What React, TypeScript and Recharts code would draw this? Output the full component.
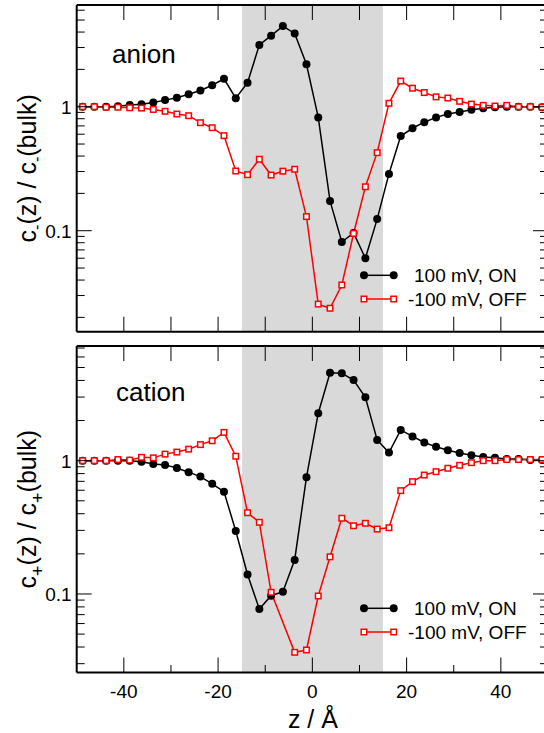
import React from "react"
import { LineChart, Line, XAxis, YAxis, CartesianGrid, Legend } from "recharts"

// bin centres along the pore axis (Å)
const zBins = [
  -48.75, -46.25, -43.75, -41.25, -38.75, -36.25, -33.75, -31.25, -28.75, -26.25,
  -23.75, -21.25, -18.75, -16.25, -13.75, -11.25, -8.75, -6.25, -3.75, -1.25,
  1.25, 3.75, 6.25, 8.75, 11.25, 13.75, 16.25, 18.75, 21.25, 23.75,
  26.25, 28.75, 31.25, 33.75, 36.25, 38.75, 41.25, 43.75, 46.25, 48.75,
]

// c-(z)/c-(bulk)
const anionOn = [
  1.0, 1.0, 1.0, 1.01, 1.03, 1.045, 1.08, 1.13, 1.18, 1.26,
  1.35, 1.49, 1.68, 1.17, 1.56, 3.15, 3.74, 4.47, 3.9, 2.2,
  0.82, 0.174, 0.081, 0.096, 0.06, 0.124, 0.287, 0.58, 0.67, 0.75,
  0.82, 0.873, 0.906, 0.946, 0.97, 0.99, 1.0, 1.0, 1.0, 0.99,
]
const anionOff = [
  1.0, 1.0, 0.99, 0.99, 0.98, 0.975, 0.95, 0.918, 0.873, 0.846,
  0.743, 0.677, 0.584, 0.303, 0.283, 0.377, 0.281, 0.302, 0.313, 0.13,
  0.0256, 0.0237, 0.0365, 0.095, 0.226, 0.426, 1.065, 1.61, 1.41, 1.3,
  1.2, 1.175, 1.105, 1.05, 1.026, 1.013, 1.026, 1.0, 1.0, 0.99,
]

// c+(z)/c+(bulk); one bin missing in the OFF run
const cationOn = [
  1.0, 1.0, 1.0, 1.0, 1.0, 0.98, 0.945, 0.93, 0.88, 0.82,
  0.76, 0.67, 0.585, 0.297, 0.14, 0.077, 0.097, 0.104, 0.18, 0.75,
  2.27, 4.57, 4.52, 4.03, 2.99, 1.43, 1.15, 1.7, 1.52, 1.37,
  1.27, 1.197, 1.14, 1.1, 1.066, 1.05, 1.03, 1.03, 1.01, 1.01,
]
const cationOff = [
  1.0, 1.0, 1.0, 1.02, 1.01, 1.06, 1.05, 1.12, 1.16, 1.22,
  1.32, 1.41, 1.63, 1.08, 0.407, 0.345, 0.103, null, 0.0365, 0.038,
  0.0966, 0.19, 0.37, 0.325, 0.339, 0.307, 0.314, 0.596, 0.696, 0.78,
  0.827, 0.877, 0.923, 0.966, 1.0, 1.0, 1.02, 1.02, 1.02, 1.02,
]

const zDomain = [-50, 50]
const poreRange = [-15, 15]
const zTicks = [-40, -30, -20, -10, 0, 10, 20, 30, 40]
const zLabelled = [-40, -20, 0, 20, 40]
const anionTicks = [
  0.02, 0.03, 0.04, 0.05, 0.06, 0.07, 0.08, 0.09, 0.1,
  0.2, 0.3, 0.4, 0.5, 0.6, 0.7, 0.8, 0.9, 1, 2, 3, 4, 5, 6,
]
const cationTicks = [
  0.03, 0.04, 0.05, 0.06, 0.07, 0.08, 0.09, 0.1,
  0.2, 0.3, 0.4, 0.5, 0.6, 0.7, 0.8, 0.9, 1, 2, 3, 4, 5, 6, 7,
]
const yLabelled = [0.1, 1]
const legendNames = ["100 mV, ON", "-100 mV, OFF"]

const FONT = '"Liberation Sans", Arial, Helvetica, sans-serif'
const RED = "#ff0000"
const PORE_FILL = "#d9d9d9"
const PLOT_W = 560

const isMajorY = (v: number) => yLabelled.some(m => Math.abs(m - v) < 1e-9)

const LeftTick = (p: any) => {
  const major = isMajorY(p.payload.value)
  const len = major ? 15 : 8
  return (
    <g>
      <line x1={p.x} y1={p.y} x2={p.x + len} y2={p.y} stroke="#000" strokeWidth={1} />
      {major && (
        <text x={p.x - 5} y={p.y + 7} textAnchor="end" fontSize={19} fontFamily={FONT} fill="#000">
          {String(p.payload.value)}
        </text>
      )}
    </g>
  )
}

const RightTick = (p: any) => {
  const len = isMajorY(p.payload.value) ? 15 : 8
  return <line x1={p.x} y1={p.y} x2={p.x - len} y2={p.y} stroke="#000" strokeWidth={1} />
}

const TopTick = (p: any) => (
  <line x1={p.x} y1={p.y} x2={p.x} y2={p.y + 15} stroke="#000" strokeWidth={1} />
)

const makeBottomTick = (labels: boolean) => (p: any) => {
  const v = p.payload.value
  const major = zLabelled.includes(v)
  const len = labels && !major ? 7.5 : 15
  return (
    <g>
      <line x1={p.x} y1={p.y} x2={p.x} y2={p.y - len} stroke="#000" strokeWidth={1} />
      {labels && major && (
        <text x={p.x} y={p.y + 25} textAnchor="middle" fontSize={19} fontFamily={FONT} fill="#000">
          {String(v)}
        </text>
      )}
    </g>
  )
}

// pore walls as grid positions; the grid's vertical fill paints the band between them
const poreEdges = ({ xAxis, offset }: any) => {
  const s = xAxis && xAxis.scale
  if (typeof s === "function") return poreRange.map(v => s(v))
  return poreRange.map(v => offset.left + ((v - zDomain[0]) / (zDomain[1] - zDomain[0])) * offset.width)
}

const renderSquare = (p: any) => {
  if (p.cx == null || p.cy == null || p.value == null) return <g key={`sq-${p.index}`} />
  return (
    <rect
      key={`sq-${p.index}`}
      x={p.cx - 2.75}
      y={p.cy - 2.75}
      width={5.5}
      height={5.5}
      fill="#fff"
      stroke={RED}
      strokeWidth={1.5}
    />
  )
}

const LegendBox = () => (
  <svg width={190} height={50} style={{ display: "block" }}>
    <line x1={9} y1={13.3} x2={38.7} y2={13.3} stroke="#000" strokeWidth={1.5} />
    <circle cx={9} cy={13.3} r={4} fill="#000" />
    <circle cx={38.7} cy={13.3} r={4} fill="#000" />
    <text x={59} y={20.1} fontSize={19} fontFamily={FONT} fill="#000">{legendNames[0]}</text>
    <line x1={9} y1={37} x2={38.7} y2={37} stroke={RED} strokeWidth={1.5} />
    <rect x={6.25} y={34.25} width={5.5} height={5.5} fill="#fff" stroke={RED} strokeWidth={1.5} />
    <rect x={35.95} y={34.25} width={5.5} height={5.5} fill="#fff" stroke={RED} strokeWidth={1.5} />
    <text x={53} y={43.8} fontSize={19} fontFamily={FONT} fill="#000">{legendNames[1]}</text>
  </svg>
)

interface PanelProps {
  on: (number | null)[]
  off: (number | null)[]
  domain: [number, number]
  yTicks: number[]
  height: number
  // plot-area edges inside the chart box
  plot: { top: number; right: number; bottom: number; left: number }
  xLabels: boolean
  legendTop: number
  children?: React.ReactNode
}

// every axis is 1px thick so the frame sits exactly on the plot edges
const AX = 1

function Panel({ on, off, domain, yTicks, height, plot, xLabels, legendTop, children }: PanelProps) {
  const rows = zBins.map((z, i) => ({ z, on: on[i], off: off[i] }))
  const frame = { stroke: "#000", strokeWidth: 2 }
  const margin = {
    top: plot.top - AX,
    right: plot.right - AX,
    bottom: plot.bottom - AX,
    left: plot.left - AX,
  }
  return (
    <LineChart width={PLOT_W} height={height} data={rows} margin={margin}>
      <CartesianGrid
        xAxisId="b" yAxisId="l"
        horizontal={false}
        vertical
        stroke="none"
        verticalCoordinatesGenerator={poreEdges}
        verticalFill={["none", PORE_FILL, "none"]}
        fillOpacity={1}
      />
      <XAxis
        xAxisId="b" type="number" dataKey="z" domain={zDomain} allowDataOverflow
        ticks={zTicks} interval={0} height={AX} tickSize={0} tickMargin={0}
        tickLine={false} axisLine={frame} tick={makeBottomTick(xLabels)}
      />
      <XAxis
        xAxisId="t" orientation="top" type="number" dataKey="z" domain={zDomain} allowDataOverflow
        ticks={zTicks} interval={0} height={AX} tickSize={0} tickMargin={0}
        tickLine={false} axisLine={frame} tick={TopTick}
      />
      <YAxis
        yAxisId="l" type="number" scale="log" domain={domain} allowDataOverflow
        ticks={yTicks} interval={0} width={AX} tickSize={0} tickMargin={0}
        tickLine={false} axisLine={frame} tick={LeftTick}
      />
      <YAxis
        yAxisId="r" orientation="right" type="number" scale="log" domain={domain} allowDataOverflow
        ticks={yTicks} interval={0} width={AX} tickSize={0} tickMargin={0}
        tickLine={false} axisLine={frame} tick={RightTick}
      />
      <Line
        xAxisId="b" yAxisId="l" dataKey="on" stroke="#000" strokeWidth={1.5}
        dot={{ r: 4, fill: "#000", stroke: "#000", strokeWidth: 0 }}
        activeDot={false} isAnimationActive={false}
      />
      <Line
        xAxisId="b" yAxisId="l" dataKey="off" stroke={RED} strokeWidth={1.5}
        dot={renderSquare} activeDot={false} connectNulls isAnimationActive={false}
      />
      <Legend
        verticalAlign="middle" align="center" layout="horizontal"
        wrapperStyle={{ left: 355, top: legendTop, width: 190, height: 50 }}
        content={() => <LegendBox />}
      />
      {children}
    </LineChart>
  )
}

export default function App() {
  const txt = { fontFamily: FONT, fill: "#000" }
  return (
    <div style={{ position: "absolute", left: 0, top: 0, width: 544, height: 733, overflow: "hidden", background: "#fff" }}>
      <div style={{ position: "absolute", left: 0, top: 0 }}>
        <Panel
          on={anionOn} off={anionOff} domain={[0.01533, 6.61]} yTicks={anionTicks}
          height={345} plot={{ top: 5, right: 12, bottom: 13.3, left: 76.7 }}
          xLabels={false} legendTop={262}
        >
          <text x={112} y={63} fontSize={26} {...txt}>anion</text>
          <text x={36.5} y={168.3} transform="rotate(-90 36.5 168.3)" textAnchor="middle" fontSize={25} {...txt}>
            c<tspan fontSize={16} dy={6}>-</tspan>
            <tspan dy={-6}>(z) / c</tspan>
            <tspan fontSize={16} dy={6}>-</tspan>
            <tspan dy={-6}>(bulk)</tspan>
          </text>
        </Panel>
      </div>
      <div style={{ position: "absolute", left: 0, top: 340 }}>
        <Panel
          on={cationOn} off={cationOff} domain={[0.02576, 7.25]} yTicks={cationTicks}
          height={393} plot={{ top: 6, right: 12, bottom: 60.5, left: 76.7 }}
          xLabels={true} legendTop={255.4}
        >
          <text x={116} y={61} fontSize={26} {...txt}>cation</text>
          <text x={36.5} y={169.2} transform="rotate(-90 36.5 169.2)" textAnchor="middle" fontSize={25} {...txt}>
            c<tspan fontSize={18} dy={8}>+</tspan>
            <tspan dy={-8}>(z) / c</tspan>
            <tspan fontSize={18} dy={8}>+</tspan>
            <tspan dy={-8}>(bulk)</tspan>
          </text>
          <text x={312.9} y={388.3} textAnchor="middle" fontSize={25} {...txt}>z / Å</text>
        </Panel>
      </div>
    </div>
  )
}
